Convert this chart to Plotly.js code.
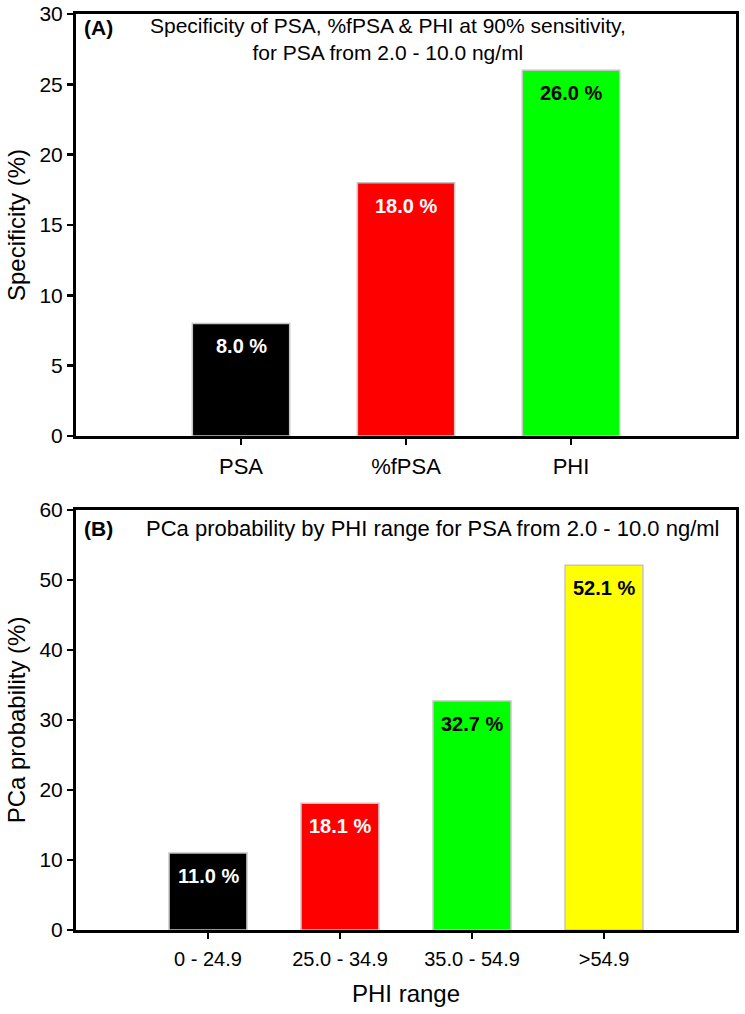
<!DOCTYPE html>
<html>
<head>
<meta charset="utf-8">
<script src="https://cdn.plot.ly/plotly-3.0.1.min.js"></script>
<style>html,body{margin:0;padding:0;background:#fff;}#chart{width:745px;height:1014px;}</style>
</head>
<body>
<div id="chart"></div>
<script>
// Panel A data
const catsA = ["PSA", "%fPSA", "PHI"];
const valsA = [8.0, 18.0, 26.0];
const colorsA = ["#000000", "#ff0000", "#00ff00"];
const labelColorsA = ["#ffffff", "#ffffff", "#000000"];
// Panel B data
const catsB = ["0 - 24.9", "25.0 - 34.9", "35.0 - 54.9", ">54.9"];
const valsB = [11.0, 18.1, 32.7, 52.1];
const colorsB = ["#000000", "#ff0000", "#00ff00", "#ffff00"];
const labelColorsB = ["#ffffff", "#ffffff", "#000000", "#000000"];

const FONT = "Liberation Sans, Arial, Helvetica, sans-serif";
const W = 745, H = 1014;
const px = v => v / W;
const py = v => 1 - v / H;

const traceA = {
  type: "bar", x: catsA, y: valsA, xaxis: "x", yaxis: "y",
  width: 0.59,
  marker: {color: colorsA, line: {color: "#c4c4c4", width: 1.5}},
  hoverinfo: "x+y", showlegend: false
};
const traceB = {
  type: "bar", x: catsB, y: valsB, xaxis: "x2", yaxis: "y2",
  width: 0.59,
  marker: {color: colorsB, line: {color: "#c4c4c4", width: 1.5}},
  hoverinfo: "x+y", showlegend: false
};

const axisCommon = {
  showline: true, linecolor: "#000", linewidth: 3, mirror: true,
  ticks: "outside", ticklen: 6, tickwidth: 2.5, tickcolor: "#000",
  showgrid: false, zeroline: false,
  tickfont: {family: FONT, size: 21, color: "#000"}
};

const annotations = [];
catsA.forEach((c, i) => annotations.push({
  xref: "x", yref: "y", x: c, y: valsA[i], yanchor: "top", yshift: -10,
  text: "<b>" + valsA[i].toFixed(1) + " %</b>", showarrow: false,
  font: {family: FONT, size: 20, color: labelColorsA[i]}
}));
catsB.forEach((c, i) => annotations.push({
  xref: "x2", yref: "y2", x: c, y: valsB[i], yanchor: "top", yshift: -10,
  text: "<b>" + valsB[i].toFixed(1) + " %</b>", showarrow: false,
  font: {family: FONT, size: 20, color: labelColorsB[i]}
}));
annotations.push(
  {xref: "paper", yref: "paper", x: px(82), y: py(27), xanchor: "left", yanchor: "middle",
   text: "<b>(A)</b>", showarrow: false, font: {family: FONT, size: 21, color: "#000"}},
  {xref: "paper", yref: "paper", x: px(388), y: py(39), xanchor: "center", yanchor: "middle",
   text: "Specificity of PSA, %fPSA &amp; PHI at 90% sensitivity,<br>for PSA from 2.0 - 10.0 ng/ml",
   showarrow: false, align: "center", font: {family: FONT, size: 21, color: "#000"}},
  {xref: "paper", yref: "paper", x: px(82), y: py(528), xanchor: "left", yanchor: "middle",
   text: "<b>(B)</b>", showarrow: false, font: {family: FONT, size: 21, color: "#000"}},
  {xref: "paper", yref: "paper", x: px(144), y: py(528), xanchor: "left", yanchor: "middle",
   text: "PCa probability by PHI range for PSA from 2.0 - 10.0 ng/ml",
   showarrow: false, font: {family: FONT, size: 22, color: "#000"}}
);

const layout = {
  width: W, height: H,
  margin: {l: 0, r: 0, t: 0, b: 0},
  paper_bgcolor: "#fff", plot_bgcolor: "#fff",
  font: {family: FONT, color: "#000"},
  showlegend: false,
  xaxis: Object.assign({}, axisCommon, {
    domain: [px(76), px(736)], anchor: "y", type: "category", range: [-1, 3],
    tickfont: {family: FONT, size: 22, color: "#000"}, ticklabelstandoff: 3
  }),
  yaxis: Object.assign({}, axisCommon, {
    domain: [py(436), py(14)], anchor: "x", range: [0, 30], dtick: 5,
    title: {text: "Specificity (%)", font: {family: FONT, size: 24, color: "#000"}, standoff: 8}
  }),
  xaxis2: Object.assign({}, axisCommon, {
    domain: [px(76), px(736)], anchor: "y2", type: "category", range: [-1, 4],
    tickfont: {family: FONT, size: 20, color: "#000"}, ticklabelstandoff: 3,
    title: {text: "PHI range", font: {family: FONT, size: 24, color: "#000"}, standoff: 17}
  }),
  yaxis2: Object.assign({}, axisCommon, {
    domain: [py(930), py(510)], anchor: "x2", range: [0, 60], dtick: 10,
    title: {text: "PCa probability (%)", font: {family: FONT, size: 24, color: "#000"}, standoff: 8}
  }),
  annotations: annotations
};

Plotly.newPlot("chart", [traceA, traceB], layout, {displayModeBar: false, staticPlot: true});
</script>
</body>
</html>
